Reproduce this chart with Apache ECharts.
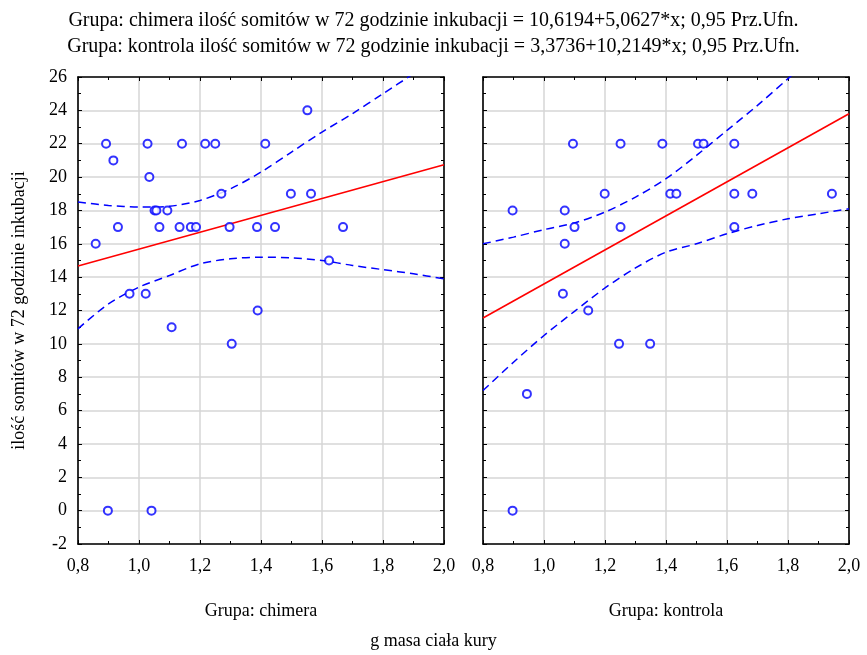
<!DOCTYPE html>
<html lang="pl">
<head>
    <meta charset="UTF-8">
    <title>ilość somitów - masa ciała</title>
    <script src="https://cdn.jsdelivr.net/npm/echarts@6/dist/echarts.min.js"></script>
</head>
<body style="margin:0;background-color:#ffffff">

<div id="main" style="width:867px;height:655px;"></div>

<script type="text/javascript">

    // grupa: chimera (masa ciała, ilość somitów)
    var chimeraX = [0.892, 0.916, 1.028, 1.141, 1.217, 1.250, 1.414, 1.034, 1.270, 1.051, 1.057, 1.093,
        0.931, 1.067, 1.133, 1.170, 1.187, 1.297, 1.387, 1.446, 0.858, 0.969, 1.022, 1.389,
        1.552, 1.498, 1.564, 1.669, 1.623, 1.107, 1.304, 0.898, 1.041]
    var chimeraY = [22, 21, 22, 22, 22, 22, 22, 20, 19, 18, 18, 18,
        17, 17, 17, 17, 17, 17, 17, 17, 16, 13, 13, 12,
        24, 19, 19, 17, 15, 11, 10, 0, 0]

    // grupa: kontrola
    var kontrolaX = [0.897, 1.095, 1.251, 1.388, 1.199, 1.068, 1.100, 1.251, 1.068, 1.062, 1.145, 1.505,
        1.523, 1.624, 1.414, 1.434, 1.624, 1.683, 1.944, 1.624, 0.944, 1.246, 1.348, 0.897]
    var kontrolaY = [18, 22, 22, 22, 19, 18, 17, 17, 16, 13, 12, 22,
        22, 22, 19, 19, 19, 19, 19, 17, 7, 10, 10, 0]

    // linie regresji (końce)
    var fitX = [0.8, 2.0]
    var chimeraFit = [14.67, 20.74]
    var kontrolaFit = [11.55, 23.80]

    // przedziały ufności 0,95
    var bandX = [0.8, 0.9, 1.0, 1.1, 1.2, 1.3, 1.4, 1.5, 1.6, 1.7, 1.8, 1.9, 2.0]
    var chimeraUpper = [18.5, 18.3, 18.2, 18.25, 18.6, 19.3, 20.3, 21.5, 22.7, 23.8, 25.0, 26.2, 27.5]
    var chimeraLower = [10.9, 12.4, 13.4, 14.1, 14.8, 15.1, 15.2, 15.15, 15.0, 14.7, 14.45, 14.2, 13.9]
    var kontrolaUpper = [16.0, 16.4, 16.85, 17.25, 17.9, 18.8, 19.9, 21.3, 22.8, 24.3, 25.9, 27.5, 29.1]
    var kontrolaLower = [7.2, 8.9, 10.5, 11.95, 13.35, 14.55, 15.5, 16.0, 16.6, 17.1, 17.5, 17.8, 18.1]

    var xTicks = {min: 0.8, max: 2.0, interval: 0.2}
    var yTicks = {min: -2, max: 26, interval: 2}

    var groupNames = ['Grupa: chimera', 'Grupa: kontrola']
    var titleLines = [
        'Grupa: chimera ilość somitów w 72 godzinie inkubacji = 10,6194+5,0627*x; 0,95 Prz.Ufn.',
        'Grupa: kontrola ilość somitów w 72 godzinie inkubacji = 3,3736+10,2149*x; 0,95 Prz.Ufn.'
    ]

    var font = '"Liberation Serif", "Times New Roman", serif'

    function pairs(xs, ys) {
        var out = []
        for (var i = 0; i < xs.length; i++) {
            out.push([xs[i], ys[i]])
        }
        return out
    }

    function xAxisFor(i, top) {
        return {
            gridIndex: i,
            type: 'value',
            position: top ? 'top' : 'bottom',
            min: xTicks.min,
            max: xTicks.max,
            interval: xTicks.interval,
            name: top ? '' : groupNames[i],
            nameLocation: 'middle',
            nameGap: 58,
            nameTextStyle: {fontFamily: font, fontSize: 18, color: '#000'},
            axisLine: {onZero: false, lineStyle: {color: '#000', width: 1.6}},
            axisTick: {show: true, inside: true, length: 4, lineStyle: {color: '#000'}},
            minorTick: {show: true, splitNumber: 2, length: 3, lineStyle: {color: '#000'}},
            splitLine: {show: !top, lineStyle: {color: '#d6d6d6', width: 1.5}},
            axisLabel: {
                show: !top,
                margin: 13,
                fontFamily: font,
                fontSize: 18,
                color: '#000',
                formatter: function (v) {
                    return v.toFixed(1).replace('.', ',')
                }
            }
        }
    }

    function yAxisFor(i, right) {
        var labels = (i === 0 && !right)
        return {
            gridIndex: i,
            type: 'value',
            position: right ? 'right' : 'left',
            min: yTicks.min,
            max: yTicks.max,
            interval: yTicks.interval,
            name: labels ? 'ilość somitów w 72 godzinie inkubacji' : '',
            nameLocation: 'middle',
            nameGap: 50,
            nameTextStyle: {fontFamily: font, fontSize: 18, color: '#000'},
            axisLine: {onZero: false, lineStyle: {color: '#000', width: 1.6}},
            axisTick: {show: true, inside: true, length: 4, lineStyle: {color: '#000'}},
            minorTick: {show: true, splitNumber: 2, length: 3, lineStyle: {color: '#000'}},
            splitLine: {show: !right, lineStyle: {color: '#d6d6d6', width: 1.5}},
            axisLabel: {show: labels, margin: 11, fontFamily: font, fontSize: 18, color: '#000'}
        }
    }

    function groupSeries(i, xs, ys, fit, upper, lower) {
        var ax = {xAxisIndex: 2 * i, yAxisIndex: 2 * i}
        var band = {color: '#0000ff', width: 1.5, type: [8, 5]}
        return [
            Object.assign({
                type: 'line', data: pairs(bandX, upper), smooth: 0.3, symbol: 'none',
                lineStyle: band, clip: true, z: 3
            }, ax),
            Object.assign({
                type: 'line', data: pairs(bandX, lower), smooth: 0.3, symbol: 'none',
                lineStyle: band, clip: true, z: 3
            }, ax),
            Object.assign({
                type: 'line', data: pairs(fitX, fit), symbol: 'none',
                lineStyle: {color: '#ff0000', width: 1.6}, z: 4
            }, ax),
            Object.assign({
                type: 'scatter', data: pairs(xs, ys), symbol: 'circle', symbolSize: 8,
                itemStyle: {color: '#ffffff', borderColor: '#0000ff', borderWidth: 2}, z: 5
            }, ax)
        ]
    }

    var myChart = echarts.init(document.getElementById('main'), null, {renderer: 'canvas'})

    var option = {
        backgroundColor: '#ffffff',
        animation: false,
        title: [{
            text: titleLines.join('\n'),
            left: 'center',
            top: 3,
            textStyle: {fontFamily: font, fontSize: 20, fontWeight: 'normal', color: '#000', lineHeight: 26}
        }, {
            text: 'g masa ciała kury',
            left: 'center',
            top: 627,
            textStyle: {fontFamily: font, fontSize: 18, fontWeight: 'normal', color: '#000'}
        }],
        grid: [
            {left: 78, right: 423, top: 77, bottom: 111},
            {left: 483, right: 18, top: 77, bottom: 111}
        ],
        xAxis: [xAxisFor(0, false), xAxisFor(0, true), xAxisFor(1, false), xAxisFor(1, true)],
        yAxis: [yAxisFor(0, false), yAxisFor(0, true), yAxisFor(1, false), yAxisFor(1, true)],
        series: groupSeries(0, chimeraX, chimeraY, chimeraFit, chimeraUpper, chimeraLower)
            .concat(groupSeries(1, kontrolaX, kontrolaY, kontrolaFit, kontrolaUpper, kontrolaLower))
    }

    myChart.setOption(option)

</script>
</body>
</html>
